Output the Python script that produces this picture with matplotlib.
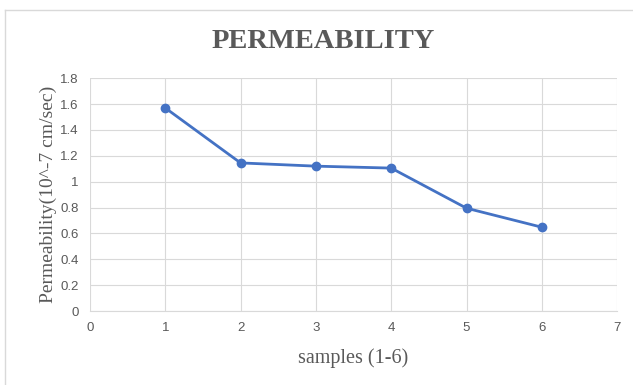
import matplotlib.pyplot as plt
from matplotlib.lines import Line2D

samples = [1, 2, 3, 4, 5, 6]
permeability = [1.57, 1.145, 1.12, 1.105, 0.795, 0.648]

x_ticks = [0, 1, 2, 3, 4, 5, 6, 7]
y_ticks = [0, 0.2, 0.4, 0.6, 0.8, 1, 1.2, 1.4, 1.6, 1.8]
y_labels = ['0', '0.2', '0.4', '0.6', '0.8', '1', '1.2', '1.4', '1.6', '1.8']

gray = '#595959'

fig = plt.figure(figsize=(6.33, 3.85), dpi=100)
ax = fig.add_axes([0.142, 0.192, 0.833, 0.605])

ax.plot(samples, permeability, color='#4472C4', linewidth=2,
        marker='o', markersize=6, zorder=3)

ax.set_xlim(0, 7)
ax.set_ylim(0, 1.8)
ax.set_xticks(x_ticks)
ax.set_yticks(y_ticks)
ax.set_yticklabels(y_labels)
ax.grid(True, color='#d9d9d9', linewidth=0.8)
ax.set_axisbelow(True)
for s in ['top', 'right', 'left']:
    ax.spines[s].set_visible(False)
ax.spines['bottom'].set_color('#d9d9d9')
ax.tick_params(length=0, colors=gray, labelsize=9.5, pad=8)
for lab in ax.get_xticklabels() + ax.get_yticklabels():
    lab.set_family('Liberation Sans')

ax.set_xlabel('samples (1-6)', family='Liberation Serif', fontsize=14.5,
              color=gray, labelpad=10)
ax.set_ylabel('Permeability(10^-7 cm/sec)', family='Liberation Serif',
              fontsize=14, color=gray, labelpad=2)
fig.text(0.51, 0.893, 'PERMEABILITY', family='Liberation Serif',
         fontweight='bold', fontsize=20.5, color=gray, ha='center', va='center')

# chart frame
fig.add_artist(Line2D([5 / 633, 1], [375 / 385, 375 / 385],
                      transform=fig.transFigure, color='#d9d9d9', lw=1))
fig.add_artist(Line2D([5 / 633, 5 / 633], [0, 375 / 385],
                      transform=fig.transFigure, color='#d9d9d9', lw=1))

fig.savefig('out.png', dpi=100)
